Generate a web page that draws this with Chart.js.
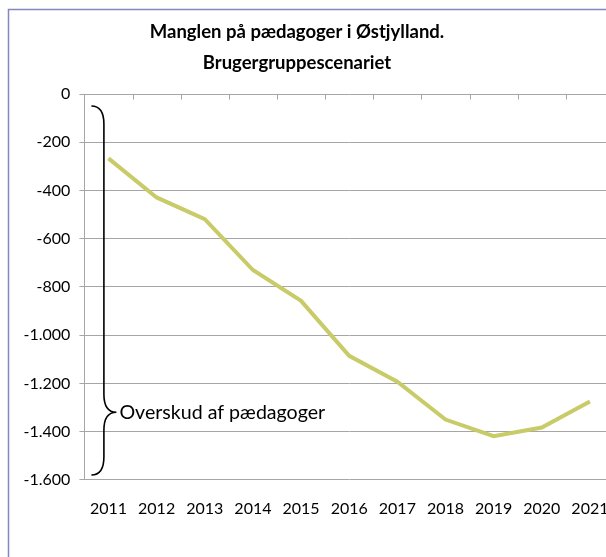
<!DOCTYPE html>
<html lang="da">
<head>
    <meta charset="UTF-8">
    <title>Manglen på pædagoger i Østjylland</title>
    <script src="https://cdn.jsdelivr.net/npm/chart.js"></script>
    <style>
        html, body { margin: 0; padding: 0; background: #fff; }
        #wrap { position: relative; width: 606px; height: 557px; overflow: hidden; }
        #chart { position: absolute; left: -20px; top: 0; }
    </style>
</head>
<body>
    <div id="wrap">
        <canvas id="chart" width="634" height="557"></canvas>
    </div>

    <script>
        // Data
        const years = ["2011", "2012", "2013", "2014", "2015", "2016", "2017", "2018", "2019", "2020", "2021"];
        const mangel = [-267, -429, -519, -730, -858, -1086, -1193, -1350, -1419, -1383, -1275];
        const yTicks = [0, -200, -400, -600, -800, -1000, -1200, -1400, -1600];
        const titleLines = ["Manglen på pædagoger i Østjylland.", "Brugergruppescenariet"];

        // brace annotation (values on the y axis)
        const braceLabel = "Overskud af pædagoger";
        const braceTop = -50;
        const braceBottom = -1580;
        const braceTip = -1320;

        const fontName = "Lato, 'Open Sans', sans-serif";
        const gridColor = '#a6a6a6';

        // format -1600 as -1.600
        function fmt(v) {
            const s = Math.abs(v).toString().replace(/\B(?=(\d{3})+(?!\d))/g, '.');
            return (v < 0 ? '-' : '') + s;
        }

        // frame, ticks on the top axis line and the brace
        const extras = {
            id: 'extras',
            beforeDraw(chart) {
                const ctx = chart.ctx;
                ctx.save();
                ctx.fillStyle = '#fff';
                ctx.fillRect(0, 0, chart.width, chart.height);
                ctx.strokeStyle = '#8585bf';
                ctx.lineWidth = 1.5;
                ctx.strokeRect(28.5, 9.5, chart.width, chart.height);
                ctx.restore();
            },
            afterDraw(chart) {
                const ctx = chart.ctx;
                const x = chart.scales.x;
                const y = chart.scales.y;
                const area = chart.chartArea;
                ctx.save();

                // tick marks below the 0 line, between the categories
                const step = x.getPixelForValue(1) - x.getPixelForValue(0);
                ctx.strokeStyle = gridColor;
                ctx.lineWidth = 1;
                const y0 = Math.round(y.getPixelForValue(0)) + 0.5;
                for (let i = 1; i <= years.length; i++) {
                    const px = Math.round(x.getPixelForValue(i - 1) + step / 2) + 0.5;
                    ctx.beginPath();
                    ctx.moveTo(px, y0);
                    ctx.lineTo(px, y0 + 5);
                    ctx.stroke();
                }

                // brace
                const top = y.getPixelForValue(braceTop);
                const bot = y.getPixelForValue(braceBottom);
                const tip = y.getPixelForValue(braceTip);
                const xa = area.left + 7;
                const xb = area.left + 19.5;
                const xc = area.left + 32;
                ctx.strokeStyle = '#000';
                ctx.lineWidth = 1.6;
                ctx.beginPath();
                ctx.moveTo(xa, top);
                ctx.quadraticCurveTo(xb, top, xb, top + 18);
                ctx.lineTo(xb, tip - 18);
                ctx.quadraticCurveTo(xb, tip, xc, tip);
                ctx.quadraticCurveTo(xb, tip, xb, tip + 18);
                ctx.lineTo(xb, bot - 18);
                ctx.quadraticCurveTo(xb, bot, xa, bot);
                ctx.stroke();

                ctx.fillStyle = '#000';
                ctx.font = '19.6px ' + fontName;
                ctx.textBaseline = 'middle';
                ctx.textAlign = 'left';
                ctx.fillText(braceLabel, xc + 3, tip);
                ctx.restore();
            }
        };

        const ctx = document.getElementById('chart').getContext('2d');
        new Chart(ctx, {
            type: 'line',
            data: {
                labels: years,
                datasets: [{
                    label: 'Mangel',
                    data: mangel,
                    borderColor: 'rgb(200, 203, 104)',
                    backgroundColor: 'rgb(200, 203, 104)',
                    borderWidth: 4,
                    pointRadius: 0,
                    tension: 0,
                    fill: false
                }]
            },
            options: {
                responsive: false,
                animation: false,
                devicePixelRatio: 1,
                layout: { padding: { left: 0, right: 0, top: 0, bottom: 20 } },
                plugins: {
                    legend: { display: false },
                    tooltip: { enabled: false },
                    title: {
                        display: true,
                        text: titleLines,
                        color: '#000',
                        font: { family: fontName, size: 18.5, weight: 'bold', lineHeight: '31px' },
                        padding: { top: 16.5, bottom: 15.5 }
                    }
                },
                scales: {
                    x: {
                        offset: true,
                        grid: { display: false, drawTicks: false },
                        border: { display: false },
                        afterFit: (scale) => { scale.paddingLeft = 0; scale.paddingRight = 0; },
                        ticks: {
                            color: '#000',
                            padding: 19,
                            maxRotation: 0,
                            autoSkip: false,
                            font: { family: fontName, size: 16 }
                        }
                    },
                    y: {
                        min: -1600,
                        max: 0,
                        afterBuildTicks: (scale) => { scale.ticks = yTicks.map(v => ({ value: v })); },
                        afterFit: (scale) => { scale.width = 104.4; },
                        grid: { color: gridColor, tickLength: 5, lineWidth: 1 },
                        border: { display: true, color: gridColor },
                        ticks: {
                            color: '#000',
                            padding: 9,
                            font: { family: fontName, size: 16 },
                            callback: (v) => fmt(v)
                        }
                    }
                }
            },
            plugins: [extras]
        });
    </script>
</body>
</html>
